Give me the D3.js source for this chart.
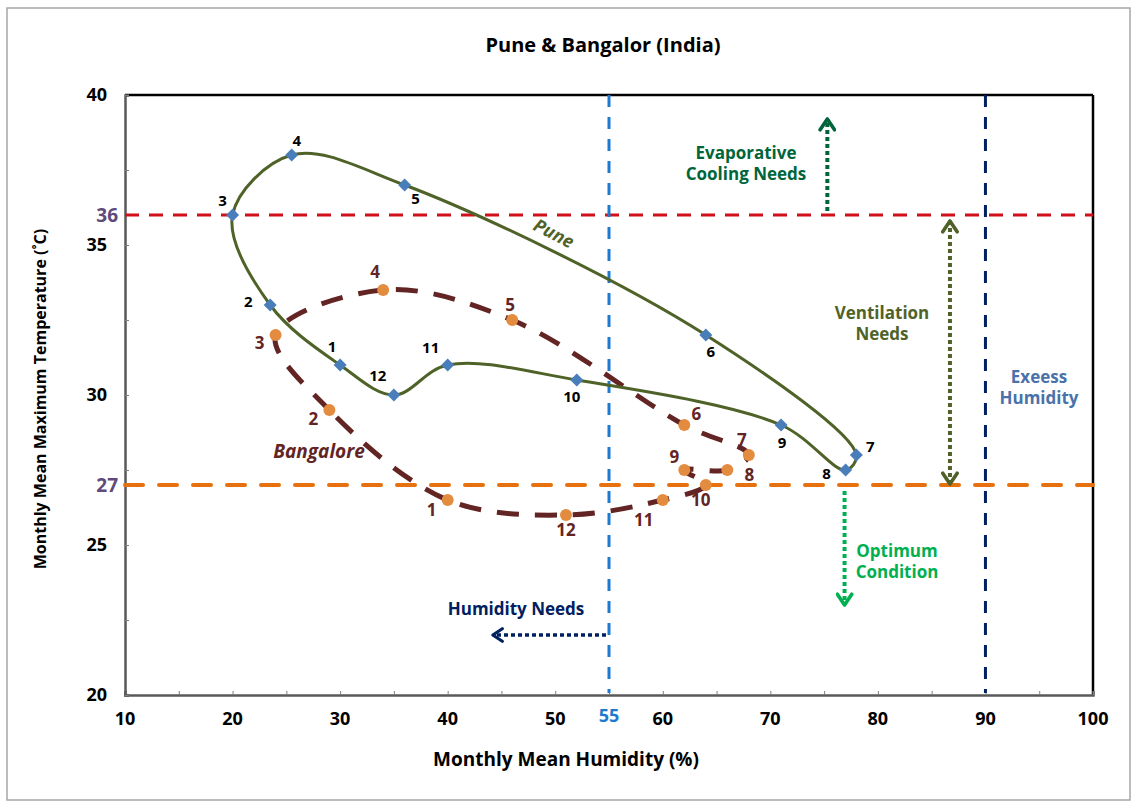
<!DOCTYPE html>
<html>
<head>
<meta charset="utf-8">
<script src="https://cdn.jsdelivr.net/npm/d3@7"></script>
<style>
  html, body { margin: 0; padding: 0; background: #fff; }
  svg { display: block; }
  text { font-family: "Open Sans", Lato, sans-serif; font-weight: bold; }
</style>
</head>
<body>
<svg id="chart" width="1137" height="804"></svg>
<script>
// ---------- data ----------
const months = [1,2,3,4,5,6,7,8,9,10,11,12];
const puneHumidity = [30, 23.5, 20, 25.5, 36, 64, 78, 77, 71, 52, 40, 35];
const puneTemp     = [31, 33, 36, 38, 37, 32, 28, 27.5, 29, 30.5, 31, 30];
const blrHumidity  = [40, 29, 24, 34, 46, 62, 68, 66, 62, 64, 60, 51];
const blrTemp      = [26.5, 29.5, 32, 33.5, 32.5, 29, 28, 27.5, 27.5, 27, 26.5, 26];
const xTicks = [10,20,30,40,50,60,70,80,90,100];
const yTicks = [20,25,30,35,40];
const refTempHigh = 36, refTempLow = 27, refHumLow = 55, refHumHigh = 90;

// ---------- layout ----------
const svg = d3.select("#chart");
const L = 125, R = 1093, T = 95, B = 695;
const x = d3.scaleLinear().domain([10,100]).range([L,R]);
const y = d3.scaleLinear().domain([20,40]).range([B,T]);

svg.append("rect").attr("x",7).attr("y",8).attr("width",1123).attr("height",792)
  .attr("fill","none").attr("stroke","#a6a6a6").attr("stroke-width",1.5);

// arrow markers
const defs = svg.append("defs");
function chevron(id, color){
  defs.append("marker").attr("id",id).attr("viewBox","0 0 10 10")
    .attr("refX",8).attr("refY",5).attr("markerWidth",4.5).attr("markerHeight",4.5)
    .attr("markerUnits","strokeWidth").attr("orient","auto-start-reverse")
    .append("path").attr("d","M2,1 L8,5 L2,9").attr("fill","none")
    .attr("stroke",color).attr("stroke-width",2).attr("stroke-linecap","round").attr("stroke-linejoin","round");
}
chevron("arrEvap","#00653a");
chevron("arrVent","#4f6228");
chevron("arrOpt","#00b050");
chevron("arrHum","#002060");

// top & right border (black)
svg.append("line").attr("x1",L).attr("x2",R).attr("y1",T).attr("y2",T).attr("stroke","#000").attr("stroke-width",2.5);
svg.append("line").attr("x1",R).attr("x2",R).attr("y1",T).attr("y2",B).attr("stroke","#000").attr("stroke-width",2.5);

// axes
const xAxis = d3.axisBottom(x).tickValues(d3.range(10,101,5)).tickSize(-4).tickFormat("");
const gx = svg.append("g").attr("transform",`translate(0,${B})`).call(xAxis);
gx.select(".domain").attr("stroke","#595959").attr("stroke-width",2.5);
gx.selectAll(".tick line").attr("stroke","#7f7f7f").attr("stroke-width",1);
const yAxis = d3.axisLeft(y).tickValues(d3.range(20,40.1,2.5)).tickSize(-4).tickFormat("");
const gy = svg.append("g").attr("transform",`translate(${L},0)`).call(yAxis);
gy.select(".domain").attr("stroke","#595959").attr("stroke-width",2.5);
gy.selectAll(".tick line").attr("stroke","#7f7f7f").attr("stroke-width",1);

svg.append("g").selectAll("text").data(xTicks).join("text")
  .attr("x",d=>x(d)).attr("y",B+30).attr("text-anchor","middle")
  .attr("font-size",18).attr("fill","#000").text(d=>d);
svg.append("g").selectAll("text").data(yTicks).join("text")
  .attr("x",L-18).attr("y",d=>y(d)+6).attr("text-anchor","end")
  .attr("font-size",18).attr("fill","#000").text(d=>d);

// reference lines
svg.append("line").attr("x1",L).attr("x2",R).attr("y1",y(refTempHigh)).attr("y2",y(refTempHigh))
  .attr("stroke","#d0101a").attr("stroke-width",3).attr("stroke-dasharray","14,10");
svg.append("line").attr("x1",L).attr("x2",R).attr("y1",y(refTempLow)).attr("y2",y(refTempLow))
  .attr("stroke","#e8710f").attr("stroke-width",4).attr("stroke-dasharray","18,16").attr("stroke-linecap","round");
svg.append("line").attr("x1",x(refHumLow)).attr("x2",x(refHumLow)).attr("y1",T).attr("y2",B-2)
  .attr("stroke","#1d7ad0").attr("stroke-width",3).attr("stroke-dasharray","12,10");
svg.append("line").attr("x1",x(refHumHigh)).attr("x2",x(refHumHigh)).attr("y1",T).attr("y2",B-2)
  .attr("stroke","#002060").attr("stroke-width",3).attr("stroke-dasharray","12,10");

svg.append("text").attr("x",L-7).attr("y",y(refTempHigh)+7).attr("text-anchor","end")
  .attr("font-size",19).attr("fill","#604a7b").text(refTempHigh);
svg.append("text").attr("x",L-7).attr("y",y(refTempLow)+7).attr("text-anchor","end")
  .attr("font-size",19).attr("fill","#604a7b").text(refTempLow);
svg.append("text").attr("x",x(refHumLow)).attr("y",B+27).attr("text-anchor","middle")
  .attr("font-size",18).attr("fill","#1d7ad0").text(refHumLow);

// annotation arrows
function arrow(x1,y1,x2,y2,color,id,w,both){
  const l = svg.append("line").attr("x1",x1).attr("y1",y1).attr("x2",x2).attr("y2",y2)
    .attr("stroke",color).attr("stroke-width",w).attr("stroke-dasharray","4,3")
    .attr("marker-end",`url(#${id})`);
  if(both) l.attr("marker-start",`url(#${id})`);
}
arrow(x(75.3), y(36)-4, x(75.3), y(39.2), "#00653a","arrEvap",4,false);
arrow(x(86.7), y(26.9)-4, x(86.7), y(35.8), "#4f6228","arrVent",4,true);
arrow(x(76.9), y(27)+6, x(76.9), y(23.0), "#00b050","arrOpt",4,false);
arrow(x(55)-3, y(22), x(44.2), y(22), "#002060","arrHum",3.5,false);

// annotation texts
function label(lines, cx, cy, color, size){
  const t = svg.append("text").attr("text-anchor","middle").attr("font-size",size).attr("fill",color);
  lines.forEach((s,i)=>t.append("tspan").attr("x",cx).attr("y",cy+i*21).text(s));
}
label(["Evaporative","Cooling Needs"], 746, 159, "#00653a", 17);
label(["Ventilation","Needs"], 882, 319, "#4f6228", 17);
label(["Exeess","Humidity"], 1039, 383, "#4a72aa", 17);
label(["Optimum","Condition"], 897, 557, "#00b050", 17);
label(["Humidity Needs"], 516, 615, "#002060", 17);

// series curves
const line = d3.line().x(d=>x(d[0])).y(d=>y(d[1])).curve(d3.curveCatmullRomClosed.alpha(0.5));
const pune = months.map((m,i)=>[puneHumidity[i], puneTemp[i], m]);
const blr  = months.map((m,i)=>[blrHumidity[i], blrTemp[i], m]);

svg.append("path").datum(blr).attr("d",line).attr("fill","none")
  .attr("stroke","#632523").attr("stroke-width",5).attr("stroke-dasharray","22,16");
svg.append("path").datum(pune).attr("d",line).attr("fill","none")
  .attr("stroke","#4f6228").attr("stroke-width",3);

svg.append("g").selectAll("circle").data(blr).join("circle")
  .attr("cx",d=>x(d[0])).attr("cy",d=>y(d[1])).attr("r",6).attr("fill","#e38b3f");
svg.append("g").selectAll("path").data(pune).join("path")
  .attr("transform",d=>`translate(${x(d[0])},${y(d[1])})`)
  .attr("d","M0,-6.5 L6.5,0 L0,6.5 L-6.5,0 Z").attr("fill","#4a7ebb");

// point labels (offsets of label centre from the point)
const puneOff = {1:[-8,-18],2:[-22,-3],3:[-10,-14],4:[5,-14],5:[11,14],6:[5,17],7:[14,-8],8:[-19,4],9:[1,18],10:[-5,17],11:[-17,-17],12:[-16,-19]};
const blrOff  = {1:[-16,10],2:[-16,9],3:[-16,8],4:[-8,-18],5:[-2,-15],6:[12,-11],7:[-7,-15],8:[22,5],9:[-10,-13],10:[-5,15],11:[-19,20],12:[0,15]};
svg.append("g").selectAll("text").data(pune).join("text")
  .attr("x",d=>x(d[0])+puneOff[d[2]][0]).attr("y",d=>y(d[1])+puneOff[d[2]][1]+5)
  .attr("text-anchor","middle").attr("font-size",15).attr("fill","#000").text(d=>d[2]);
svg.append("g").selectAll("text").data(blr).join("text")
  .attr("x",d=>x(d[0])+blrOff[d[2]][0]).attr("y",d=>y(d[1])+blrOff[d[2]][1]+6)
  .attr("text-anchor","middle").attr("font-size",17).attr("fill","#632523").text(d=>d[2]);

// series names
svg.append("text").attr("transform","translate(551,239) rotate(27)").attr("text-anchor","middle")
  .attr("font-size",18).attr("font-style","italic").attr("fill","#4f6228").text("Pune");
svg.append("text").attr("x",319).attr("y",458).attr("text-anchor","middle")
  .attr("font-size",19).attr("font-style","italic").attr("fill","#632523").text("Bangalore");

// titles
svg.append("text").attr("x",603).attr("y",52).attr("text-anchor","middle")
  .attr("font-size",20).attr("fill","#000").text("Pune & Bangalor (India)");
svg.append("text").attr("x",566).attr("y",766).attr("text-anchor","middle")
  .attr("font-size",19).attr("fill","#000").text("Monthly Mean Humidity (%)");
svg.append("text").attr("transform","translate(46,399) rotate(-90)").attr("text-anchor","middle")
  .attr("font-size",16).attr("fill","#000").text("Monthly Mean Maximum Temperature (˚C)");
</script>
</body>
</html>
